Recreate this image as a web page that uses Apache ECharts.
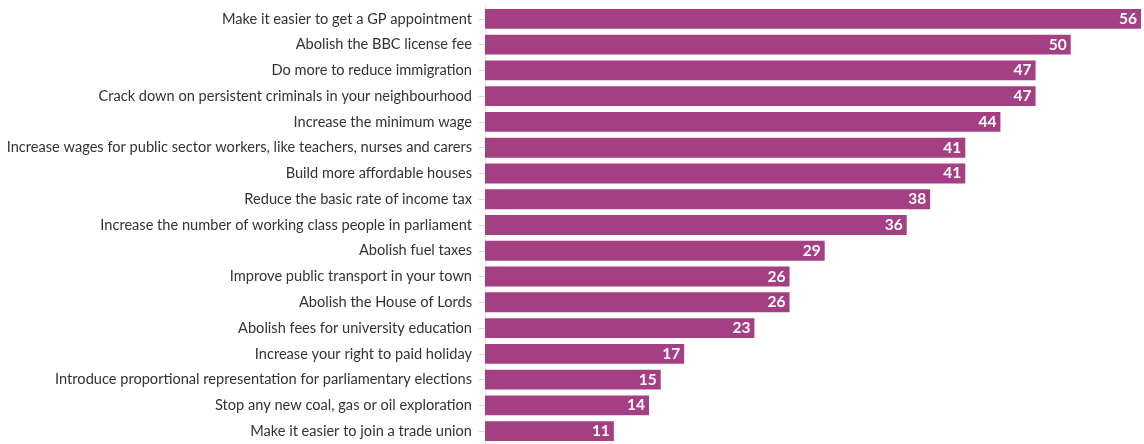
<!DOCTYPE html>
<html>
<head>
<meta charset="utf-8">
<style>
  html, body { margin: 0; padding: 0; background: #fff; }
  #chart { width: 1144px; height: 444px; }
</style>
<script src="https://cdn.jsdelivr.net/npm/echarts@6/dist/echarts.min.js"></script>
</head>
<body>
<div id="chart"></div>
<script>
const categories = [
  'Make it easier to get a GP appointment',
  'Abolish the BBC license fee',
  'Do more to reduce immigration',
  'Crack down on persistent criminals in your neighbourhood',
  'Increase the minimum wage',
  'Increase wages for public sector workers, like teachers, nurses and carers',
  'Build more affordable houses',
  'Reduce the basic rate of income tax',
  'Increase the number of working class people in parliament',
  'Abolish fuel taxes',
  'Improve public transport in your town',
  'Abolish the House of Lords',
  'Abolish fees for university education',
  'Increase your right to paid holiday',
  'Introduce proportional representation for parliamentary elections',
  'Stop any new coal, gas or oil exploration',
  'Make it easier to join a trade union'
];
const values = [56, 50, 47, 47, 44, 41, 41, 38, 36, 29, 26, 26, 23, 17, 15, 14, 11];

const chart = echarts.init(document.getElementById('chart'));

var option = {
  animation: false,
  grid: {
    left: 485,
    right: 3,
    top: 6,
    height: 442
  },
  xAxis: {
    type: 'value',
    min: 0,
    max: 56,
    show: false
  },
  yAxis: {
    type: 'category',
    inverse: true,
    data: categories,
    axisLine: {
      show: true,
      lineStyle: { color: '#e6e6e6', width: 1 }
    },
    axisTick: {
      show: true,
      alignWithLabel: true,
      length: 6,
      lineStyle: { color: '#d9d9d9' }
    },
    axisLabel: {
      margin: 13,
      color: '#333333',
      fontFamily: 'Lato',
      fontSize: 14.6
    }
  },
  series: [{
    type: 'bar',
    data: values,
    barCategoryGap: '23%',
    itemStyle: { color: '#a43f84' },
    label: {
      show: true,
      position: 'insideRight',
      distance: 4,
      color: '#ffffff',
      fontFamily: 'Lato',
      fontWeight: 'bold',
      fontSize: 15.5
    }
  }]
};

chart.setOption(option);
</script>
</body>
</html>
